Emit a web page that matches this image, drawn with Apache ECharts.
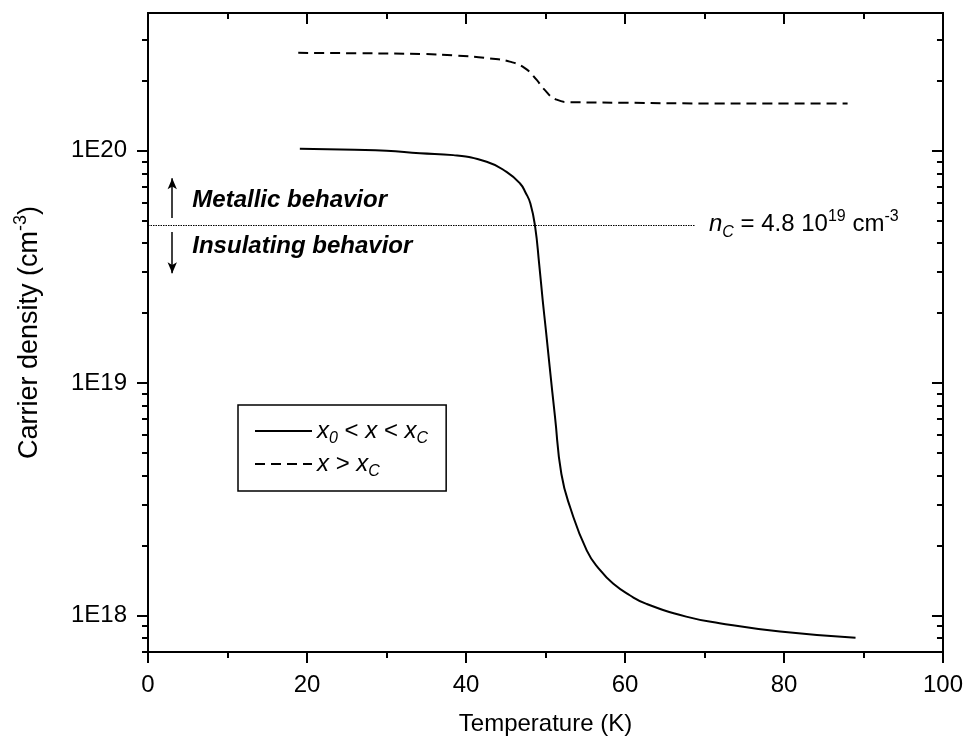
<!DOCTYPE html>
<html><head><meta charset="utf-8">
<script src="https://cdn.jsdelivr.net/npm/echarts@6/dist/echarts.min.js"></script>
<style>html,body{margin:0;padding:0;background:#fff}#c{width:966px;height:742px}</style>
</head><body><div id="c"></div>
<script>
// ---- data ----
const solidT = [19.1, 26, 30, 34.2, 38.4, 42.6, 45.1, 46.8, 47.5, 48.1, 48.7, 49.2, 49.65, 50.05, 50.53, 51.2, 52.0, 53.1, 55.2, 56.9, 58.5, 60.6, 62.7, 67.7, 71.9, 79.5, 89.0];
const solidN = [1.02e20, 1.01e20, 1.0e20, 9.75e19, 9.58e19, 8.97e19, 8.11e19, 7.23e19, 6.6e19, 5.93e19, 4.70e19, 3.27e19, 2.27e19, 1.69e19, 1.17e19, 7.13e18, 4.06e18, 2.92e18, 1.90e18, 1.56e18, 1.37e18, 1.22e18, 1.12e18, 9.87e17, 9.25e17, 8.51e17, 8.0e17];
const dashT = [18.9, 26.3, 34.6, 38.8, 43.0, 45.5, 47.4, 48.9, 49.7, 51.4, 53.1, 60, 70, 80, 88.0];
const dashN = [2.64e20, 2.63e20, 2.61e20, 2.57e20, 2.50e20, 2.42e20, 2.27e20, 2.02e20, 1.86e20, 1.66e20, 1.62e20, 1.61e20, 1.60e20, 1.60e20, 1.60e20];
const seriesNames = ['x0 < x < xC', 'x > xC'];
const xTickStep = 20;
const yMajor = [1e18, 1e19, 1e20];
const yMinor = [7e17, 8e17, 9e17, 2e18, 3e18, 4e18, 5e18, 6e18, 7e18, 8e18, 9e18, 2e19, 3e19, 4e19, 5e19, 6e19, 7e19, 8e19, 9e19, 2e20, 3e20];
const nC = 4.8e19;
const nCEndT = 68.8;
const arrowT = 3.05;
const arrowUp = [5.13e19, 7.62e19];
const arrowDown = [4.47e19, 2.97e19];
const textMetallic = [4.88, 6.12e19];
const textInsulating = [4.88, 3.88e19];

// ---- chart ----
const FONT = 'Liberation Sans, Arial, sans-serif';
const FS = 24;
const mkRich = (fs, lh, sfs) => ({
  n: {fontSize: fs, fontFamily: FONT, color: '#000', lineHeight: lh},
  i: {fontSize: fs, fontFamily: FONT, color: '#000', fontStyle: 'italic', lineHeight: lh},
  sub: {fontSize: sfs, fontFamily: FONT, color: '#000', fontStyle: 'italic', verticalAlign: 'bottom', lineHeight: sfs},
  sup: {fontSize: sfs, fontFamily: FONT, color: '#000', verticalAlign: 'top', lineHeight: sfs}
});
const rich = mkRich(FS, 32, 16);
const richTitle = mkRich(27, 36, 18);
const yMin = 6.95e17, yMax = 3.92e20;
const lineBlack = {color: '#000', width: 2};

function yAxisDef(pos, inside, ticks, len, labels) {
  return {
    type: 'log', position: pos, min: yMin, max: yMax,
    axisLine: {show: true, lineStyle: lineBlack},
    axisTick: {show: true, inside: inside, length: len, customValues: ticks, lineStyle: lineBlack},
    axisLabel: labels ? {show: true, customValues: yMajor, margin: 21, fontSize: FS, fontFamily: FONT, color: '#000',
      formatter: v => '1E' + Math.round(Math.log10(v))} : {show: false},
    splitLine: {show: false}, minorTick: {show: false}, minorSplitLine: {show: false}
  };
}
function xAxisDef(pos, inside, labels) {
  return {
    type: 'value', position: pos, min: 0, max: 100, interval: xTickStep,
    axisLine: {show: true, onZero: false, lineStyle: lineBlack},
    axisTick: {show: true, inside: inside, length: 11, lineStyle: lineBlack},
    minorTick: {show: true, splitNumber: 2, length: 6, lineStyle: lineBlack},
    axisLabel: labels ? {show: true, margin: 21, fontSize: FS, fontFamily: FONT, color: '#000'} : {show: false},
    splitLine: {show: false}, minorSplitLine: {show: false}
  };
}

const xA = xAxisDef('bottom', false, true);
xA.name = 'Temperature (K)';
xA.nameLocation = 'middle';
xA.nameGap = 60;
xA.nameTextStyle = {fontSize: FS, fontFamily: FONT, color: '#000'};
const xTop = xAxisDef('top', true, false);

const y0 = yAxisDef('left', false, yMajor, 11, true);
y0.name = '{n|Carrier density (cm}{sup|-3}{n|)}';
y0.nameLocation = 'middle';
y0.nameGap = 100;
y0.nameTextStyle = {rich: richTitle};
const y1 = yAxisDef('left', false, yMinor, 6, false);
const y2 = yAxisDef('right', true, yMajor, 11, false);
const y3 = yAxisDef('right', true, yMinor, 6, false);

const chart = echarts.init(document.getElementById('c'), null, {renderer: 'canvas'});
chart.setOption({
  animation: false,
  backgroundColor: '#fff',
  textStyle: {fontFamily: FONT},
  grid: {left: 148, right: 23, top: 13, bottom: 90, containLabel: false},
  xAxis: [xA, xTop],
  yAxis: [y0, y1, y2, y3],
  legend: {
    data: seriesNames, orient: 'vertical', left: 238, top: 405,
    borderColor: '#000', borderWidth: 1.5, padding: [14, 18, 11, 16],
    itemWidth: 57, itemHeight: 14, itemGap: 5,
    itemStyle: {opacity: 0},
    textStyle: {rich: rich},
    formatter: name => name === seriesNames[0]
      ? '{i|x}{sub|0}{n| < }{i|x}{n| < }{i|x}{sub|C}'
      : '{i|x}{n| > }{i|x}{sub|C}'
  },
  series: [
    {
      name: seriesNames[0], type: 'line', xAxisIndex: 0, yAxisIndex: 0,
      data: solidT.map((t, k) => [t, solidN[k]]),
      symbol: 'none', smooth: 0.5,
      lineStyle: {color: '#000', width: 2, type: 'solid'},
      itemStyle: {color: '#000'},
      markLine: {
        silent: true, symbol: ['none', 'none'],
        data: [
          [{coord: [0, nC], lineStyle: {type: [1.5, 1], width: 1, color: '#000'},
            label: {show: true, position: 'end', distance: 14, rich: rich,
              formatter: '{i|n}{sub|C}{n| = 4.8 10}{sup|19}{n| cm}{sup|-3}'}},
           {coord: [nCEndT, nC]}],
          [{coord: [arrowT, arrowUp[0]], symbol: 'none', lineStyle: {type: 'solid', width: 1.5, color: '#000'}, label: {show: false}},
           {coord: [arrowT, arrowUp[1]], symbol: 'arrow', symbolSize: [7, 11]}],
          [{coord: [arrowT, arrowDown[0]], symbol: 'none', lineStyle: {type: 'solid', width: 1.5, color: '#000'}, label: {show: false}},
           {coord: [arrowT, arrowDown[1]], symbol: 'arrow', symbolSize: [7, 11]}]
        ]
      },
      markPoint: {
        silent: true, symbol: 'circle', symbolSize: 1, itemStyle: {color: 'rgba(0,0,0,0)'},
        label: {show: true, position: 'right', distance: 5, fontSize: FS, fontFamily: FONT, fontWeight: 'bold', fontStyle: 'italic', color: '#000'},
        data: [
          {coord: textMetallic, label: {formatter: 'Metallic behavior'}},
          {coord: textInsulating, label: {formatter: 'Insulating behavior'}}
        ]
      }
    },
    {
      name: seriesNames[1], type: 'line', xAxisIndex: 0, yAxisIndex: 0,
      data: dashT.map((t, k) => [t, dashN[k]]),
      symbol: 'none', smooth: 0.5,
      lineStyle: {color: '#000', width: 2, type: [10, 6]},
      itemStyle: {color: '#000'}
    }
  ]
});
</script></body></html>
